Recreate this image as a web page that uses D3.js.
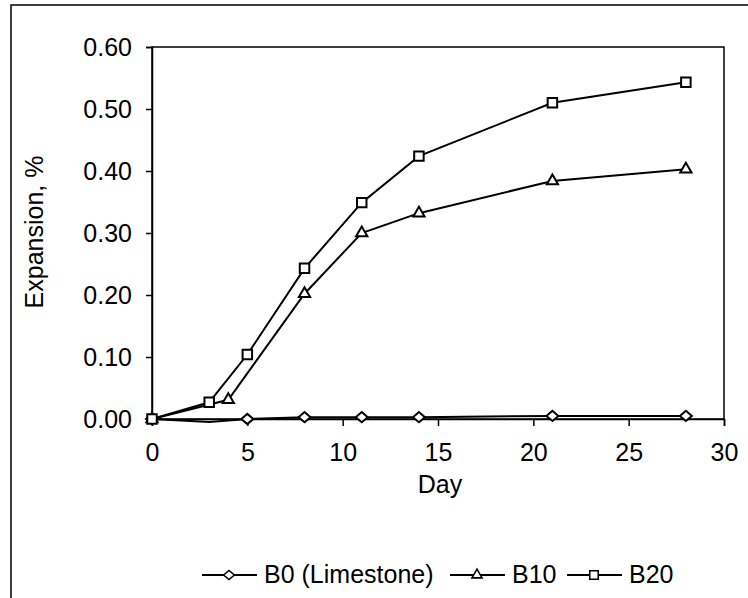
<!DOCTYPE html>
<html>
<head>
<meta charset="utf-8">
<script src="https://cdn.jsdelivr.net/npm/d3@7"></script>
<style>
  body { margin: 0; background: #fff; }
  text { font-family: "Liberation Sans", Arial, sans-serif; fill: #000; }
</style>
</head>
<body>
<svg id="chart" width="748" height="598"></svg>
<script>
// data
const seriesNames = ["B0 (Limestone)", "B10", "B20"];
const b0Days = [0, 3, 5, 8, 11, 14, 21, 28];
const b0Values = [0, -0.005, 0, 0.003, 0.003, 0.003, 0.005, 0.005];
const b0Marked = [true, false, true, true, true, true, true, true];
const b10Days = [0, 4, 8, 11, 14, 21, 28];
const b10Values = [0, 0.031, 0.202, 0.300, 0.332, 0.384, 0.403];
const b20Days = [0, 3, 5, 8, 11, 14, 21, 28];
const b20Values = [0, 0.027, 0.104, 0.243, 0.349, 0.424, 0.510, 0.543];
const xTicks = [0, 5, 10, 15, 20, 25, 30];
const yTicks = [0, 0.1, 0.2, 0.3, 0.4, 0.5, 0.6];

const svg = d3.select("#chart");
const plot = { left: 152, right: 724, top: 47, bottom: 419 };
const fontSize = 25;

// outer chart frame (runs off right/bottom)
svg.append("rect").attr("x", 11).attr("y", 5).attr("width", 760).attr("height", 620)
	.attr("fill", "none").attr("stroke", "#000").attr("stroke-width", 1.5);

const x = d3.scaleLinear().domain([0, 30]).range([plot.left, plot.right]);
const y = d3.scaleLinear().domain([0, 0.6]).range([plot.bottom, plot.top]);

// plot frame
svg.append("rect").attr("x", plot.left).attr("y", plot.top)
	.attr("width", plot.right - plot.left).attr("height", plot.bottom - plot.top)
	.attr("fill", "none").attr("stroke", "#000").attr("stroke-width", 1.5);

const xAxis = svg.append("g").attr("transform", `translate(0,${plot.bottom})`)
	.call(d3.axisBottom(x).tickValues(xTicks).tickSize(7).tickPadding(17).tickFormat(d3.format("d")));
const yAxis = svg.append("g").attr("transform", `translate(${plot.left},0)`)
	.call(d3.axisLeft(y).tickValues(yTicks).tickSize(6).tickPadding(14).tickFormat(d3.format(".2f")));
[xAxis, yAxis].forEach(a => {
	a.select(".domain").attr("stroke-width", 1.5);
	a.selectAll(".tick line").attr("stroke-width", 1.5);
	a.selectAll(".tick text").attr("font-size", fontSize)
		.attr("font-family", "Liberation Sans, Arial, sans-serif").attr("fill", "#000");
});

svg.append("text").attr("x", 440).attr("y", 493).attr("text-anchor", "middle")
	.attr("font-size", fontSize).text("Day");
svg.append("text").attr("transform", "translate(43,232) rotate(-90)").attr("text-anchor", "middle")
	.attr("font-size", fontSize).text("Expansion, %");

// wide, flat diamond like the spreadsheet marker
const wideDiamond = {
	draw(ctx, size) {
		const w = Math.sqrt(size) * 0.6, h = w * 0.85;
		ctx.moveTo(-w, 0); ctx.lineTo(0, -h); ctx.lineTo(w, 0); ctx.lineTo(0, h); ctx.closePath();
	}
};
const symbols = [wideDiamond, d3.symbolTriangle, d3.symbolSquare];
const symbolSizes = [100, 55, 90];
const series = [
	{ name: seriesNames[0], pts: b0Days.map((d, i) => ({ d, v: b0Values[i], m: b0Marked[i] })) },
	{ name: seriesNames[1], pts: b10Days.map((d, i) => ({ d, v: b10Values[i], m: true })) },
	{ name: seriesNames[2], pts: b20Days.map((d, i) => ({ d, v: b20Values[i], m: true })) },
];

const line = d3.line().x(p => x(p.d)).y(p => y(p.v));

series.forEach(s => {
	svg.append("path").datum(s.pts).attr("d", line)
		.attr("fill", "none").attr("stroke", "#000").attr("stroke-width", 2);
});
series.forEach((s, i) => {
	svg.selectAll(null).data(s.pts.filter(p => p.m)).join("path")
		.attr("transform", p => `translate(${x(p.d)},${y(p.v)})`)
		.attr("d", d3.symbol(symbols[i]).size(symbolSizes[i]))
		.attr("fill", "#fff").attr("stroke", "#000").attr("stroke-width", 2);
});

// legend
const legendX = [202, 450, 567];
const legendY = 575;
series.forEach((s, i) => {
	const g = svg.append("g").attr("transform", `translate(${legendX[i]},${legendY})`);
	g.append("line").attr("x1", 0).attr("x2", 55).attr("stroke", "#000").attr("stroke-width", 2);
	g.append("path").attr("transform", "translate(27,0)")
		.attr("d", d3.symbol(symbols[i]).size(symbolSizes[i] * 0.8))
		.attr("fill", "#fff").attr("stroke", "#000").attr("stroke-width", 1.6);
	g.append("text").attr("x", 62).attr("y", 8).attr("font-size", fontSize).text(s.name);
});
</script>
</body>
</html>
